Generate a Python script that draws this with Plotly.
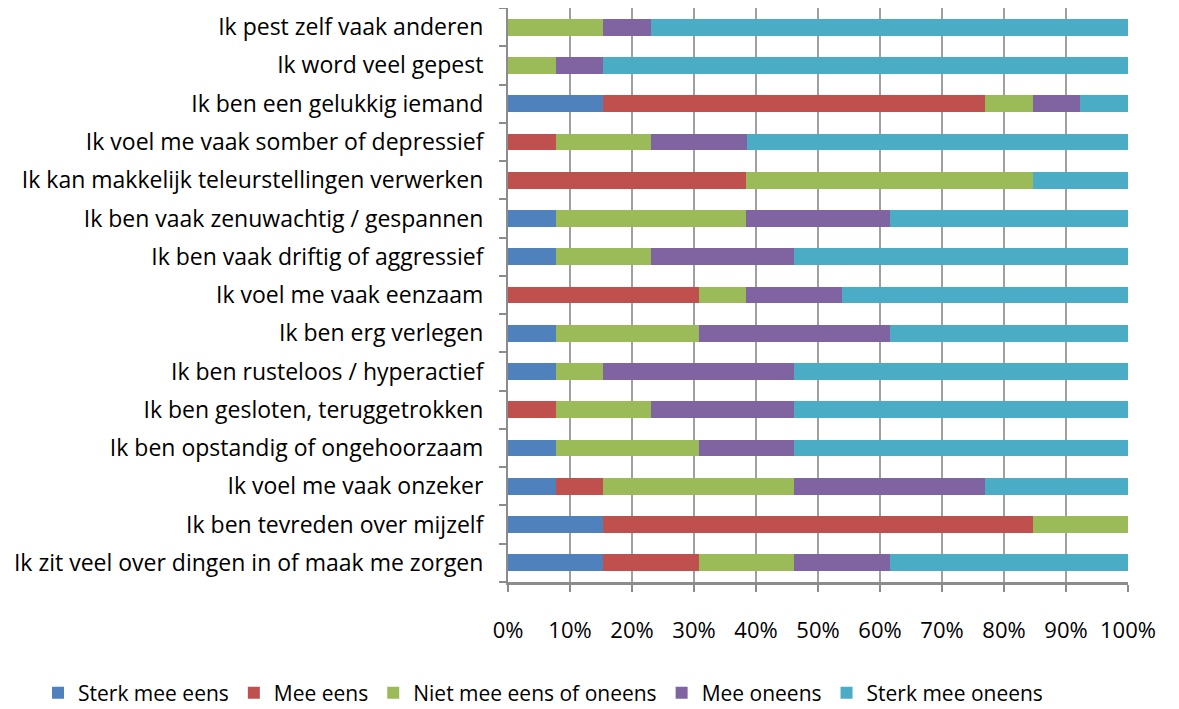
import plotly.graph_objects as go

categories = [
    "Ik zit veel over dingen in of maak me zorgen",
    "Ik ben tevreden over mijzelf",
    "Ik voel me vaak onzeker",
    "Ik ben opstandig of ongehoorzaam",
    "Ik ben gesloten, teruggetrokken",
    "Ik ben rusteloos / hyperactief",
    "Ik ben erg verlegen",
    "Ik voel me vaak eenzaam",
    "Ik ben vaak driftig of aggressief",
    "Ik ben vaak zenuwachtig / gespannen",
    "Ik kan makkelijk teleurstellingen verwerken",
    "Ik voel me vaak somber of depressief",
    "Ik ben een gelukkig iemand",
    "Ik word veel gepest",
    "Ik pest zelf vaak anderen",
]

series_names = ["Sterk mee eens", "Mee eens", "Niet mee eens of oneens", "Mee oneens", "Sterk mee oneens"]

sterk_mee_eens = [15.4, 15.4, 7.7, 7.7, 0.0, 7.7, 7.7, 0.0, 7.7, 7.7, 0.0, 0.0, 15.4, 0.0, 0.0]
mee_eens = [15.4, 69.2, 7.7, 0.0, 7.7, 0.0, 0.0, 30.8, 0.0, 0.0, 38.5, 7.7, 61.5, 0.0, 0.0]
niet_mee_eens_of_oneens = [15.4, 15.4, 30.8, 23.1, 15.4, 7.7, 23.1, 7.7, 15.4, 30.8, 46.2, 15.4, 7.7, 7.7, 15.4]
mee_oneens = [15.4, 0.0, 30.8, 15.4, 23.1, 30.8, 30.8, 15.4, 23.1, 23.1, 0.0, 15.4, 7.7, 7.7, 7.7]
sterk_mee_oneens = [38.5, 0.0, 23.1, 53.8, 53.8, 53.8, 38.5, 46.2, 53.8, 38.5, 15.4, 61.5, 7.7, 84.6, 76.9]

colors = ["#4F81BD", "#C0504D", "#9BBB59", "#8064A2", "#4BACC6"]
all_series = [sterk_mee_eens, mee_eens, niet_mee_eens_of_oneens, mee_oneens, sterk_mee_oneens]

tick_vals = [0, 10, 20, 30, 40, 50, 60, 70, 80, 90, 100]
tick_text = ["0%", "10%", "20%", "30%", "40%", "50%", "60%", "70%", "80%", "90%", "100%"]

FONT = "'Open Sans', Lato, sans-serif"

W, H = 1171, 701
L, R, T, B = 500, 51, 0, 127
PW, PH = W - L - R, H - T - B

fig = go.Figure()
for name, vals, col in zip(series_names, all_series, colors):
    fig.add_trace(go.Bar(
        y=categories, x=vals, name=name, orientation="h",
        marker=dict(color=col, line=dict(width=0)),
    ))

fig.update_layout(
    barmode="stack",
    barnorm="percent",
    bargap=0.56,
    width=W, height=H,
    margin=dict(l=L, r=R, t=T, b=B, autoexpand=False),
    paper_bgcolor="white", plot_bgcolor="white",
    font=dict(family=FONT, size=23, color="black"),
    legend=dict(
        orientation="h",
        x=(30 - L) / PW, xref="paper", xanchor="left",
        y=(PH - 685) / PH, yref="paper", yanchor="middle",
        font=dict(size=21), traceorder="normal",
        itemwidth=30,
    ),
    showlegend=True,
)

fig.update_xaxes(
    range=[0, 100], tickvals=tick_vals, ticktext=tick_text,
    showgrid=True, gridcolor="#A0A0A0", gridwidth=1.5,
    showline=True, linecolor="#8C8C8C", linewidth=3,
    ticks="outside", ticklen=7, tickcolor="#8C8C8C", tickwidth=1.5,
    ticklabelstandoff=20,
    tickfont=dict(size=22),
    zeroline=False, fixedrange=True, automargin=False,
)
fig.update_yaxes(
    showline=True, linecolor="#8C8C8C", linewidth=2,
    ticks="outside", ticklen=7, tickcolor="#8C8C8C", tickwidth=1.5,
    tickson="boundaries",
    ticklabelstandoff=18,
    tickfont=dict(size=23),
    showgrid=False, fixedrange=True, automargin=False,
)

fig.write_html("out.html")
